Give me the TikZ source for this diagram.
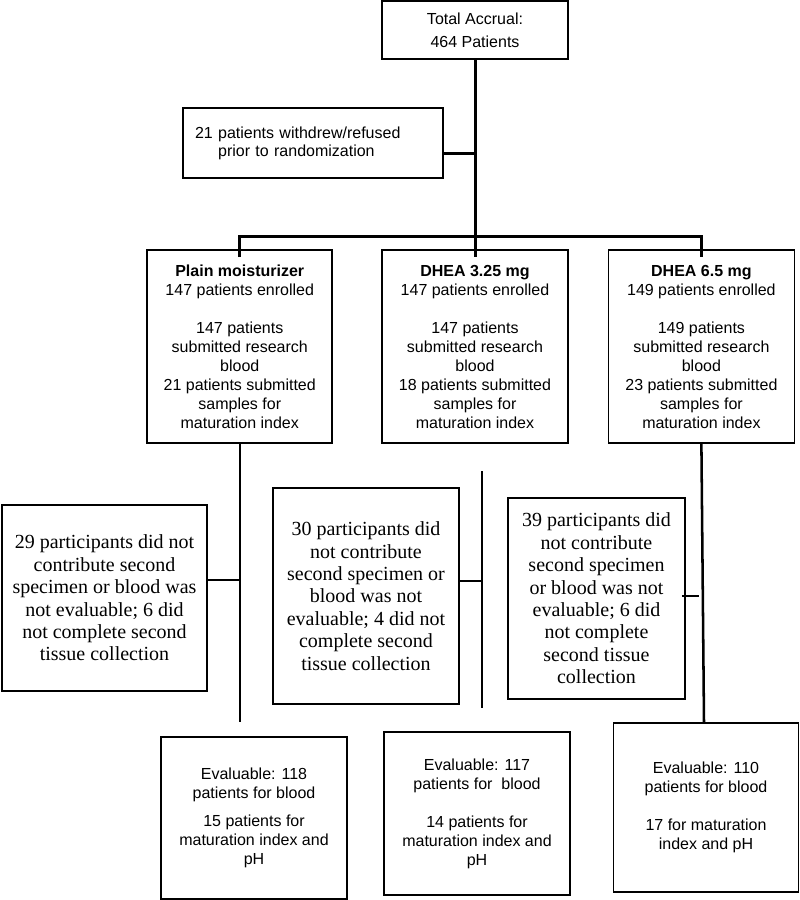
\documentclass[tikz,border=0pt]{standalone}
\usepackage{fontspec}
\setmainfont{Liberation Sans}
\newfontfamily\serifnote{Liberation Serif}
\usetikzlibrary{
    positioning     % For relative node placement (e.g., left=of)
}

\begin{document}
\begin{tikzpicture}[x=0.75pt, y=-0.75pt]

    % --- Canvas ---
    \useasboundingbox (0,0) rectangle (800,900);

    % --- Style Definitions ---
    \tikzset{
        % plain boxes with sans text
        box/.style={
            rectangle,
            draw=black,
            line width=1.3pt,
            align=center,
            inner sep=2pt,
            font=\fontsize{12}{14.25}\selectfont
        },
        % boxes for the drop-outs, set in a serif
        notebox/.style={
            box,
            font=\serifnote\fontsize{15}{16.8}\selectfont
        },
        % heavy lines of the upper part
        link/.style={line width=2.25pt, black},
        % lines of the lower part
        thinlink/.style={line width=1.9pt, black}
    }

    % --- Node Placement ---
    \node[box, minimum width=139.5pt, minimum height=43.5pt,
          font=\fontsize{12}{17.25}\selectfont] (accrual) at (475,30)
        {Total Accrual:\\464 Patients};

    \node[box, text width=177pt, inner xsep=9pt, minimum height=52.5pt,
          align=left, font=\fontsize{12}{13.5}\selectfont] (withdrew) at (313,143)
        {21 patients withdrew/refused\\\phantom{21\ }prior to randomization};

    % the three arms
    \node[box, minimum width=139.5pt, minimum height=144.75pt] (grp2) at (475,346.5)
        {\textbf{DHEA 3.25 mg}\\147 patients enrolled\\[14.25pt]147 patients\\submitted research\\blood\\18 patients submitted\\samples for\\maturation index};

    \node[box, minimum width=138.75pt, minimum height=144.75pt,
          left=36pt of grp2] (grp1)
        {\textbf{Plain moisturizer}\\147 patients enrolled\\[14.25pt]147 patients\\submitted research\\blood\\21 patients submitted\\samples for\\maturation index};

    \node[box, minimum width=139.5pt, minimum height=144.75pt,
          right=29pt of grp2] (grp3)
        {\textbf{DHEA 6.5 mg}\\149 patients enrolled\\[14.25pt]149 patients\\submitted research\\blood\\23 patients submitted\\samples for\\maturation index};

    % drop-outs
    \node[notebox, minimum width=153.75pt, minimum height=139.5pt] (excl1) at (104.5,598)
        {29 participants did not\\contribute second\\specimen or blood was\\not evaluable; 6 did\\not complete second\\tissue collection};

    \node[notebox, minimum width=139.5pt, minimum height=162pt] (excl2) at (366,596)
        {30 participants did\\not contribute\\second specimen or\\blood was not\\evaluable; 4 did not\\complete second\\tissue collection};

    \node[notebox, minimum width=132.75pt, minimum height=150.75pt] (excl3) at (596.5,598.5)
        {39 participants did\\not contribute\\second specimen\\or blood was not\\evaluable; 6 did\\not complete\\second tissue\\collection};

    % evaluable counts
    \node[box, minimum width=139.5pt, minimum height=121.5pt] (eval1) at (254,818)
        {Evaluable: 118\\patients for blood\\[7pt]15 patients for\\maturation index and\\pH};

    \node[box, minimum width=139.9pt, minimum height=122.25pt] (eval2) at (477,813.5)
        {Evaluable: 117\\patients for\ \ blood\\[14.25pt]14 patients for\\maturation index and\\pH};

    \node[box, minimum width=138.75pt, minimum height=126.75pt] (eval3) at (706,807.5)
        {Evaluable: 110\\patients for blood\\[14.25pt]17 for maturation\\index and pH};

    % --- Drawing Connections ---

    % 1. Trunk and withdrawal
    \draw[link] (accrual.south) -- ([yshift=-6pt]grp2.north);
    \coordinate (wd) at ([yshift=-7.5pt]withdrew.east);
    \draw[link] (wd) -- (wd -| accrual.south);

    % 2. Randomization bar
    \coordinate (split) at (accrual.south |- 0,236);
    \draw[link] ([yshift=-6pt]grp1.north) |- (split) -| ([yshift=-6pt]grp3.north);

    % 3. Lower branches
    \coordinate (drop1) at (grp1.south |- 0,722);
    \draw[thinlink] (grp1.south) -- (drop1);
    \coordinate (ex1) at ([yshift=13.5pt]excl1.east);
    \draw[thinlink] (ex1) -- (ex1 -| drop1);

    \coordinate (bar2top) at (482,471);
    \coordinate (bar2bot) at (482,708);
    \draw[thinlink] (bar2top) -- (bar2bot);
    \coordinate (ex2) at ([yshift=11.25pt]excl2.east);
    \draw[thinlink] (ex2) -- (ex2 -| bar2top);

    \draw[thinlink] (grp3.south) -- ([xshift=-1.5pt]eval3.north);
    \coordinate (ex3) at ([xshift=-3pt,yshift=1.9pt]excl3.east);
    \path (ex3) ++(17,0) coordinate (stub3);
    \draw[thinlink] (ex3) -- (stub3);

\end{tikzpicture}
\end{document}
